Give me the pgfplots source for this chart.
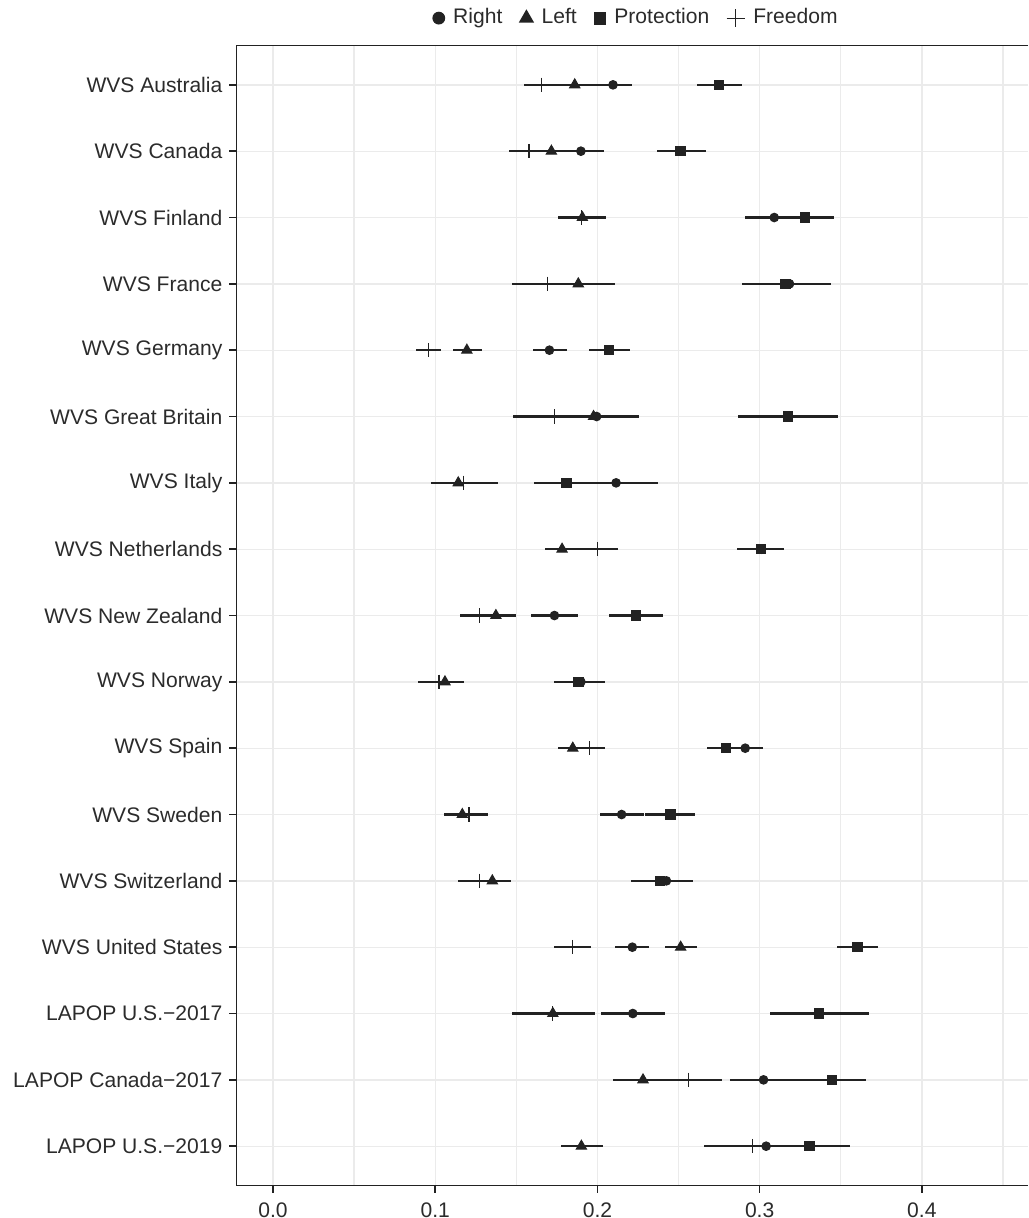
\documentclass[border=0pt]{standalone}
\usepackage{fontspec}
\setmainfont{Liberation Sans}
\usepackage{pgfplots}
\usepackage{pgfplotstable}
\pgfplotsset{compat=1.18}
\definecolor{dk}{HTML}{222222}
\definecolor{txt}{HTML}{2B2B2B}
\definecolor{grd}{HTML}{EBEBEB}

\pgfplotstableread{
y x em ep
17 0.2096 0.0116 0.0116
16 0.1898 0.0138 0.0141
15 0.3090 0.0180 0.0180
14 0.3184 0.0264 0.0254
13 0.1704 0.0104 0.0106
12 0.1995 0.0265 0.0264
11 0.2115 0.0255 0.0257
10 0.3010 0.0145 0.0143
9 0.1735 0.0145 0.0147
8 0.1898 0.0163 0.0151
7 0.2911 0.0110 0.0110
6 0.2149 0.0135 0.0135
5 0.2425 0.0165 0.0166
4 0.2215 0.0104 0.0103
3 0.2218 0.0198 0.0201
2 0.3024 0.0207 0.0206
1 0.3040 0.0200 0.0200
}\tRight

\pgfplotstableread{
y x em ep
17 0.1860 0.0120 0.0120
16 0.1716 0.0116 0.0114
15 0.1907 0.0150 0.0145
14 0.1882 0.0222 0.0226
13 0.1195 0.0084 0.0091
12 0.1976 0.0266 0.0264
11 0.1142 0.0169 0.0168
10 0.1782 0.0104 0.0104
9 0.1374 0.0124 0.0126
8 0.1060 0.0120 0.0120
7 0.1848 0.0091 0.0092
6 0.1167 0.0110 0.0113
5 0.1352 0.0112 0.0113
4 0.2513 0.0094 0.0100
3 0.1725 0.0254 0.0258
2 0.2281 0.0185 0.0185
1 0.1901 0.0125 0.0135
}\tLeft

\pgfplotstableread{
y x em ep
17 0.2751 0.0138 0.0138
16 0.2513 0.0148 0.0154
15 0.3278 0.0178 0.0179
14 0.3160 0.0267 0.0260
13 0.2071 0.0126 0.0131
12 0.3175 0.0311 0.0310
11 0.1810 0.0204 0.0205
10 0.3009 0.0148 0.0144
9 0.2237 0.0166 0.0169
8 0.1882 0.0150 0.0148
7 0.2792 0.0116 0.0116
6 0.2450 0.0154 0.0154
5 0.2384 0.0175 0.0175
4 0.3602 0.0126 0.0125
3 0.3366 0.0304 0.0305
2 0.3445 0.0213 0.0213
1 0.3307 0.0247 0.0247
}\tProt

\pgfplotstableread{
y x em ep
17 0.1657 0.0110 0.0110
16 0.1578 0.0122 0.0122
15 0.1900 0.0143 0.0145
14 0.1694 0.0223 0.0223
13 0.0957 0.0075 0.0081
12 0.1735 0.0254 0.0255
11 0.1176 0.0203 0.0211
10 0.2002 0.0122 0.0122
9 0.1274 0.0119 0.0119
8 0.1023 0.0129 0.0129
7 0.1951 0.0098 0.0098
6 0.1208 0.0118 0.0119
5 0.1271 0.0132 0.0132
4 0.1845 0.0110 0.0113
3 0.1725 0.0254 0.0258
2 0.2560 0.0210 0.0210
1 0.2958 0.0304 0.0304
}\tFree

\begin{document}
\begin{tikzpicture}
\begin{axis}[
  scale only axis,
  width=297pt, height=427.8pt,
  xmin=-0.0228, xmax=0.4655,
  ymin=0.4, ymax=17.6,
  axis line style={draw=none},
  xtick={0,0.1,0.2,0.3,0.4},
  minor xtick={0.05,0.15,0.25,0.35,0.45},
  ytick={1,...,17},
  yticklabels={LAPOP U.S.−2019, LAPOP Canada−2017, LAPOP U.S.−2017, WVS United States, WVS Switzerland, WVS Sweden, WVS Spain, WVS Norway, WVS New Zealand, WVS Netherlands, WVS Italy, WVS Great Britain, WVS Germany, WVS France, WVS Finland, WVS Canada, WVS Australia},
  xticklabel style={/pgf/number format/.cd, fixed, fixed zerofill, precision=1},
  /pgf/number format/assume math mode=true,
  tick label style={font=\fontsize{7.9}{9.5}\selectfont, text=txt},
  yticklabel style={xshift=1pt},
  xtick pos=bottom, ytick pos=left,
  tick align=outside,
  major tick length=2.6pt,
  minor tick length=0pt,
  tick style={line width=0.6pt, color=dk},
  xmajorgrids, xminorgrids, ymajorgrids,
  major grid style={line width=0.5pt, color=grd},
  minor grid style={line width=0.5pt, color=grd},
  legend style={draw=none, fill=none, at={(0.5074,1.0236)}, anchor=center,
    font=\fontsize{7.9}{9.5}\selectfont, text=txt,
    /tikz/every odd column/.append style={column sep=1.2pt},
    /tikz/every even column/.append style={column sep=4.5pt}},
  legend columns=4,
  legend cell align=left,
  legend image code/.code={\draw[#1] plot coordinates {(0.08cm,0cm)};},
  error bars/error bar style={line width=0.8pt, color=dk},
]
\addlegendimage{only marks, mark=*, mark size=2.2pt, color=dk, mark options={fill=dk}}
\addlegendentry{Right}
\addlegendimage{only marks, mark=triangle*, mark size=2.9pt, color=dk, mark options={fill=dk}}
\addlegendentry{Left}
\addlegendimage{only marks, mark=square*, mark size=2.2pt, color=dk, mark options={fill=dk}}
\addlegendentry{Protection}
\addlegendimage{only marks, mark=+, mark size=3.4pt, color=dk, mark options={line width=0.45pt}}
\addlegendentry{Freedom}

\addplot[forget plot, only marks, color=dk, mark=*, mark size=1.6pt, mark options={fill=dk, draw=dk},
  error bars/.cd, x dir=both, x explicit, error mark=none]
  table[x=x, y=y, x error minus=em, x error plus=ep] {\tRight};
\addplot[forget plot, only marks, color=dk, mark=triangle*, mark size=2.2pt, mark options={fill=dk, draw=dk},
  error bars/.cd, x dir=both, x explicit, error mark=none]
  table[x=x, y=y, x error minus=em, x error plus=ep] {\tLeft};
\addplot[forget plot, only marks, color=dk, mark=square*, mark size=1.75pt, mark options={fill=dk, draw=dk},
  error bars/.cd, x dir=both, x explicit, error mark=none]
  table[x=x, y=y, x error minus=em, x error plus=ep] {\tProt};
\addplot[forget plot, only marks, color=dk, mark=+, mark size=2.7pt, mark options={draw=dk, line width=0.45pt},
  error bars/.cd, x dir=both, x explicit, error mark=none]
  table[x=x, y=y, x error minus=em, x error plus=ep] {\tFree};
\draw[dk, line width=0.8pt] (axis description cs:1,1) -- (axis description cs:0,1) -- (axis description cs:0,0) -- (axis description cs:1,0);
\end{axis}
\pgfresetboundingbox
\path (-88.5pt,-12pt) rectangle (297pt,444.7pt);
\end{tikzpicture}
\end{document}
